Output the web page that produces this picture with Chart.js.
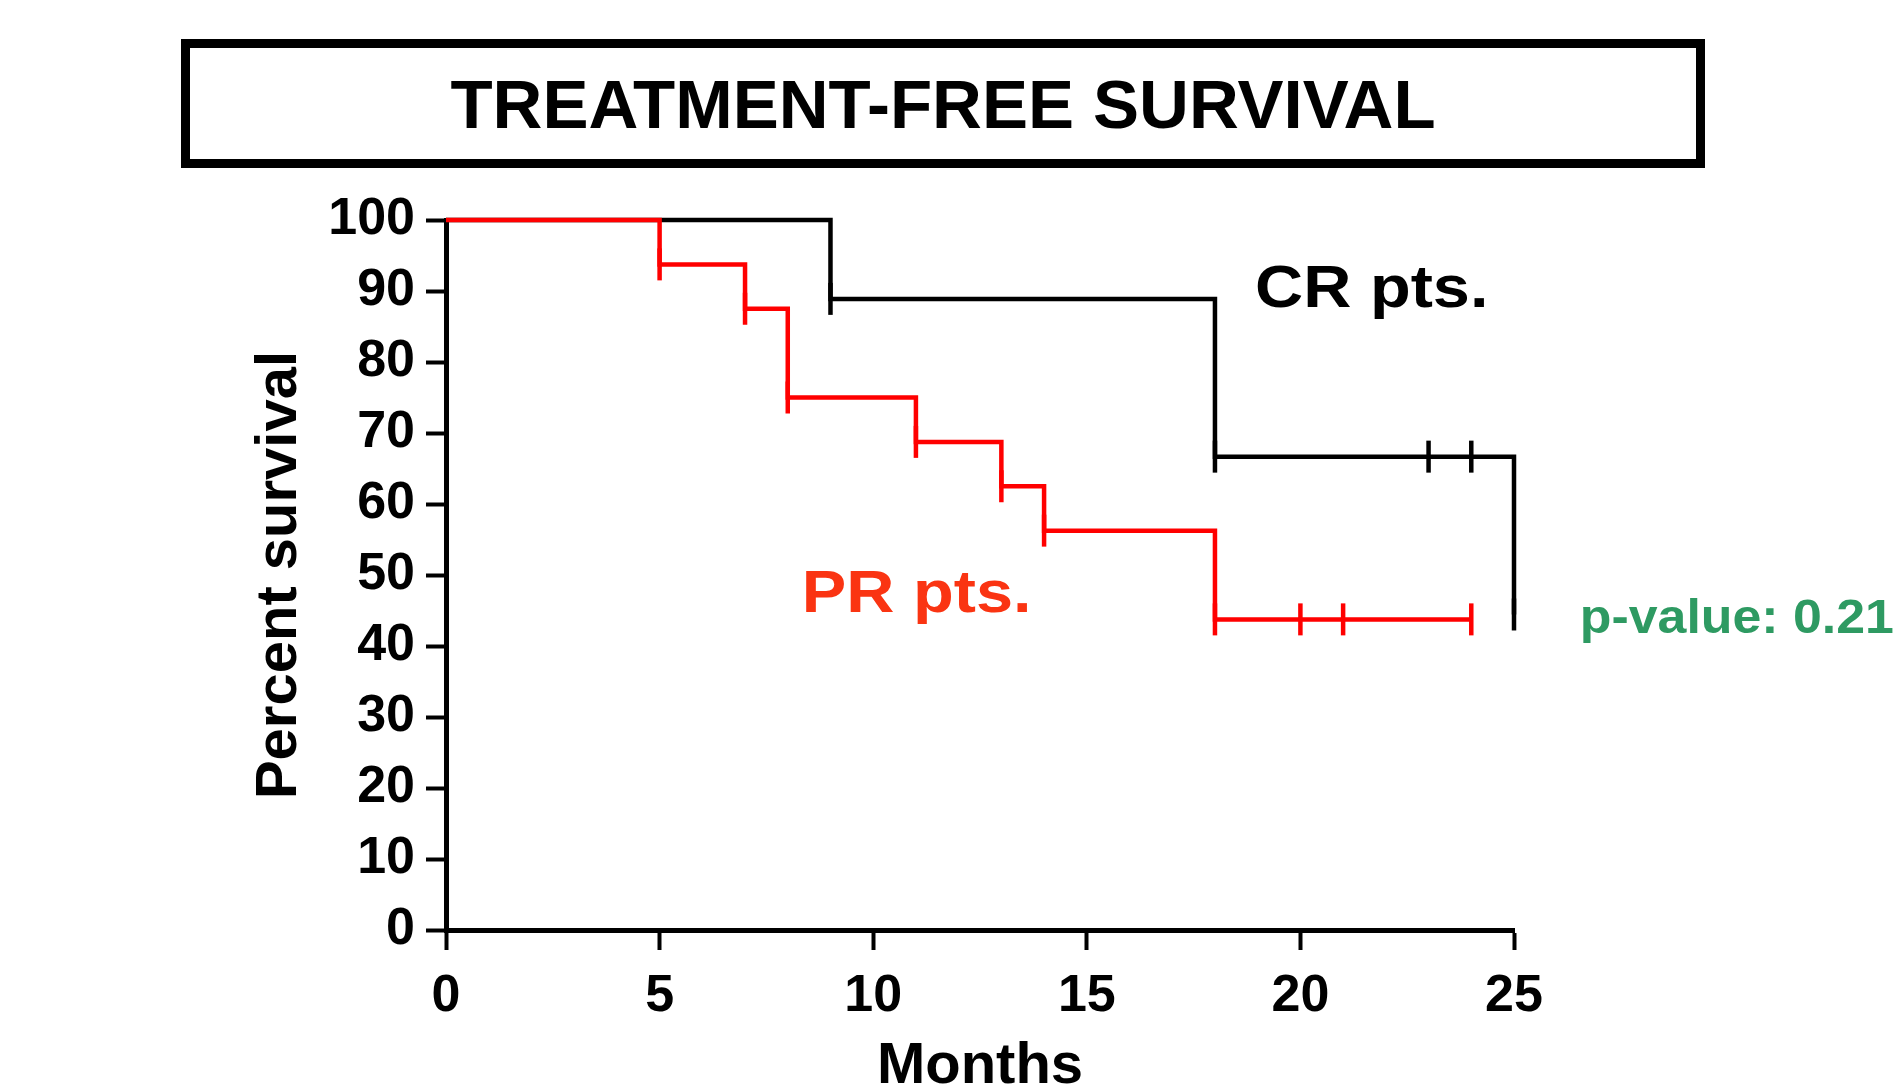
<!DOCTYPE html>
<html>
<head>
<meta charset="utf-8">
<title>Treatment-free survival</title>
<script src="https://cdn.jsdelivr.net/npm/chart.js@4.4.1/dist/chart.umd.min.js"></script>
<style>
    body { margin: 0; background: #fff; }
    #wrap { width: 1898px; height: 1088px; }
</style>
</head>
<body>
<div id="wrap"><canvas id="km" width="1898" height="1088"></canvas></div>
<script>
window.onload = function () {
    init();
};

// Kaplan-Meier steps
var mesesCR = [0, 9, 18, 23, 24, 25];
var sobrevCR = [100, 88.89, 66.67, 66.67, 66.67, 44.44];
var mesesPR = [0, 5, 7, 8, 11, 13, 14, 18, 20, 21, 24];
var sobrevPR = [100, 93.75, 87.5, 75, 68.75, 62.5, 56.25, 43.75, 43.75, 43.75, 43.75];
var ticksX = [0, 5, 10, 15, 20, 25];
var ticksY = [0, 10, 20, 30, 40, 50, 60, 70, 80, 90, 100];
var titulo = "TREATMENT-FREE SURVIVAL";
var pValor = "p-value: 0.21";

var fonte = '"Liberation Sans", Arial, Helvetica, sans-serif';

function pontos(xs, ys) {
    var lista = [];
    for (var i = 0; i < xs.length; i++) {
        lista.push({x: xs[i], y: ys[i]});
    }
    return lista;
}

function rotulo(ctx, texto, cor, px, py, tam, esticar) {
    ctx.save();
    ctx.translate(px, py);
    ctx.scale(esticar, 1);
    ctx.fillStyle = cor;
    ctx.font = 'bold ' + tam + 'px ' + fonte;
    ctx.textAlign = 'left';
    ctx.textBaseline = 'alphabetic';
    ctx.fillText(texto, 0, 0);
    ctx.restore();
}

// title box + the free text labels
var textosPlugin = {
    id: 'textos',
    afterDraw: function (chart) {
        var ctx = chart.ctx;
        var sx = chart.scales.x;
        var sy = chart.scales.y;
        ctx.save();
        ctx.lineWidth = 9;
        ctx.strokeStyle = '#000';
        ctx.strokeRect(185.5, 43.5, 1515, 120);
        ctx.fillStyle = '#000';
        ctx.font = 'bold 69px ' + fonte;
        ctx.textAlign = 'center';
        ctx.textBaseline = 'alphabetic';
        ctx.fillText(titulo, 943, 128);
        ctx.restore();

        rotulo(ctx, 'CR pts.', '#000', sx.getPixelForValue(18.94), sy.getPixelForValue(87.7), 59, 1.13);
        rotulo(ctx, 'PR pts.', '#fa3412', sx.getPixelForValue(8.33), sy.getPixelForValue(44.8), 59, 1.13);
        rotulo(ctx, pValor, '#2e9a62', sx.getPixelForValue(26.54), sy.getPixelForValue(41.8), 48, 1.08);
    }
};

function semPrimeiro(ctx) {
    return ctx.dataIndex === 0 ? 0 : 16;
}

function init() {
    Chart.defaults.font.family = fonte;
    Chart.defaults.color = '#000';
    var ctx = document.getElementById("km");
    var grafico = new Chart(ctx, {
        type: 'scatter',
        data: {
            datasets: [{
                    label: "PR pts.",
                    data: pontos(mesesPR, sobrevPR),
                    showLine: true,
                    stepped: true,
                    borderColor: "#ff0000",
                    borderWidth: 4.5,
                    pointStyle: 'line',
                    pointRotation: 90,
                    pointRadius: semPrimeiro,
                    pointBorderColor: "#ff0000",
                    pointBorderWidth: 4.5,
                    clip: false
                }, {
                    label: "CR pts.",
                    data: pontos(mesesCR, sobrevCR),
                    showLine: true,
                    stepped: true,
                    borderColor: "#000",
                    borderWidth: 4.5,
                    pointStyle: 'line',
                    pointRotation: 90,
                    pointRadius: semPrimeiro,
                    pointBorderColor: "#000",
                    pointBorderWidth: 4.5,
                    clip: false
                }]
        },
        options: {
            responsive: false,
            animation: false,
            events: [],
            layout: {padding: {left: 0, top: 220, right: 384, bottom: 0}},
            plugins: {
                legend: {display: false},
                tooltip: {enabled: false}
            },
            scales: {
                x: {
                    type: 'linear',
                    min: 0,
                    max: 25,
                    afterBuildTicks: function (axis) {
                        axis.ticks = ticksX.map(function (v) { return {value: v}; });
                    },
                    afterFit: function (axis) {
                        axis.height = 158;
                    },
                    grid: {drawOnChartArea: false, drawTicks: true, tickLength: 20, tickWidth: 4, tickColor: '#000'},
                    border: {display: true, width: 5, color: '#000'},
                    ticks: {font: {size: 52, weight: 'bold'}, padding: 15, color: '#000', maxRotation: 0},
                    title: {display: true, text: 'Months', font: {size: 58, weight: 'bold', lineHeight: 1}, padding: {top: 0, bottom: -8}, color: '#000'}
                },
                y: {
                    type: 'linear',
                    min: 0,
                    max: 100,
                    afterBuildTicks: function (axis) {
                        axis.ticks = ticksY.map(function (v) { return {value: v}; });
                    },
                    afterFit: function (axis) {
                        axis.width = 446;
                    },
                    grid: {drawOnChartArea: false, drawTicks: true, tickLength: 20, tickWidth: 4, tickColor: '#000'},
                    border: {display: true, width: 5, color: '#000'},
                    ticks: {font: {size: 52, weight: 'bold'}, padding: 11, color: '#000'},
                    title: {display: true, text: 'Percent survival', font: {size: 58, weight: 'bold', lineHeight: 1.2}, padding: {top: 245, bottom: 0}, color: '#000'}
                }
            }
        },
        plugins: [textosPlugin]
    });
}
</script>
</body>
</html>
